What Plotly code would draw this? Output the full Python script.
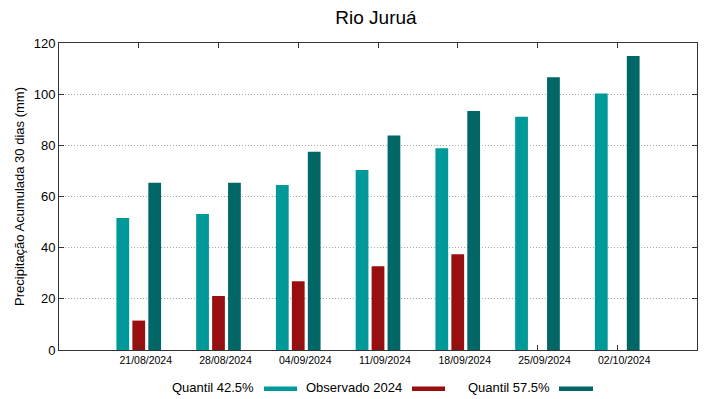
import plotly.graph_objects as go

dates = ["21/08/2024", "28/08/2024", "04/09/2024", "11/09/2024",
         "18/09/2024", "25/09/2024", "02/10/2024"]
q425 = [51.6, 53.2, 64.5, 70.4, 78.9, 91.2, 100.3]
obs2024 = [11.5, 21.1, 26.9, 32.7, 37.4, None, None]
q575 = [65.4, 65.4, 77.5, 83.8, 93.4, 106.6, 114.9]

names = ["Quantil 42.5%", "Observado 2024", "Quantil 57.5%"]
colors = ["#009999", "#990f0f", "#006666"]
series = [q425, obs2024, q575]

xpos = list(range(1, len(dates) + 1))

fig = go.Figure()
for nm, col, vals in zip(names, colors, series):
    fig.add_trace(go.Bar(x=xpos, y=vals, name=nm, marker_color=col,
                         marker_line_width=0, showlegend=False))

font = "Liberation Sans, Arial, sans-serif"
W, H = 711, 391
fig.update_layout(
    width=W, height=H,
    margin=dict(l=51, r=22, t=35, b=49, autoexpand=False),
    plot_bgcolor="white", paper_bgcolor="white",
    barmode="group", bargap=0.4, bargroupgap=0.2,
    font=dict(family=font, color="black"),
    title=dict(text="Rio Juruá", x=(376 - 8) / W, xanchor="center",
               y=1 - 9 / H, yanchor="middle",
               font=dict(size=19, family=font)),
)
fig.update_xaxes(
    range=[0, 8], tickvals=xpos, ticktext=dates, ticklabelshift=7,
    tickfont=dict(size=10.5), ticks="inside", ticklen=5, tickcolor="#333",
    showline=True, linecolor="#333", linewidth=1, mirror="ticks",
    showgrid=False, zeroline=False,
)
fig.update_yaxes(
    range=[0, 120], dtick=20, tickfont=dict(size=13),
    ticks="inside", ticklen=5, tickcolor="#333",
    showline=True, linecolor="#333", linewidth=1, mirror="ticks",
    showgrid=True, gridcolor="#a8a8a8", griddash="1px,2px", gridwidth=1,
    zeroline=False, automargin=False,
    title=dict(text="Precipitação Acumulada 30 dias (mm)", font=dict(size=13), standoff=6),
)

# legend (gnuplot style: text then swatch); page coords -> paper coords
def px(x):
    return (x - 59) / 638

def py(y):
    return (350 - y) / 307

leg_y = 387.5
legend_items = [(256, 264, 297), (404, 412, 445), (552, 559, 593)]
for (tx, s0, s1), nm, col in zip(legend_items, names, colors):
    fig.add_annotation(xref="paper", yref="paper", x=px(tx), y=py(leg_y),
                       text=nm, showarrow=False, xanchor="right", yanchor="middle",
                       font=dict(size=13, family=font))
    fig.add_shape(type="rect", xref="paper", yref="paper",
                  x0=px(s0), x1=px(s1), y0=py(391), y1=py(386.5),
                  fillcolor=col, line_width=0)

fig.write_html("out.html")
